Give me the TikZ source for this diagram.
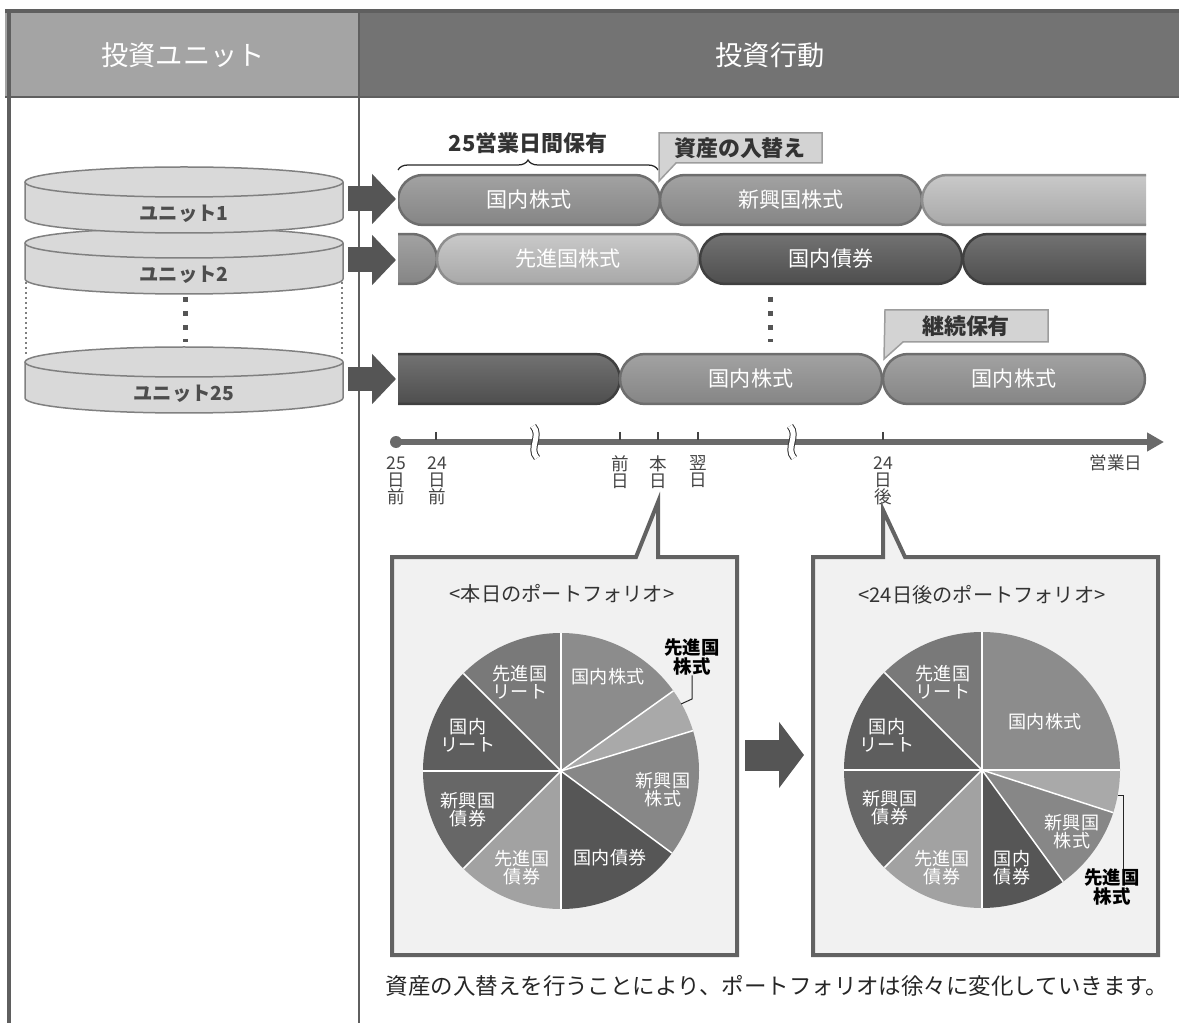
\documentclass[tikz,border=0pt]{standalone}
\usepackage{fontspec}
\setmainfont{Noto Sans CJK JP}
\usetikzlibrary{shapes.misc,arrows.meta,decorations.pathreplacing,positioning}
\definecolor{hdrL}{HTML}{A4A4A4}
\definecolor{hdrR}{HTML}{737373}
\definecolor{framec}{HTML}{5F5F5F}
\definecolor{cylfill}{HTML}{D9D9D9}
\definecolor{cyldraw}{HTML}{808080}
\definecolor{unittxt}{HTML}{4D4D4D}
\definecolor{arrowc}{HTML}{555555}
\definecolor{pmidtop}{HTML}{A2A2A2}
\definecolor{pmidbot}{HTML}{858585}
\definecolor{pmidline}{HTML}{6E6E6E}
\definecolor{plighttop}{HTML}{C9C9C9}
\definecolor{plightbot}{HTML}{A8A8A8}
\definecolor{plightline}{HTML}{8E8E8E}
\definecolor{pdarktop}{HTML}{727272}
\definecolor{pdarkbot}{HTML}{4E4E4E}
\definecolor{pdarkline}{HTML}{404040}
\definecolor{callfill}{HTML}{D3D3D3}
\definecolor{callline}{HTML}{9D9D9D}
\definecolor{boxfill}{HTML}{F1F1F1}
\definecolor{boxline}{HTML}{626262}
\definecolor{axisc}{HTML}{6A6A6A}
\definecolor{lblc}{HTML}{444444}
\definecolor{pA}{HTML}{8C8C8C}
\definecolor{pB}{HTML}{A9A9A9}
\definecolor{pC}{HTML}{878787}
\definecolor{pD}{HTML}{565656}
\definecolor{pE}{HTML}{A2A2A2}
\definecolor{pF}{HTML}{676767}
\definecolor{pG}{HTML}{5E5E5E}
\definecolor{pH}{HTML}{797979}
\tikzset{
  hdr/.style={text=white, font=\fontsize{15.5}{18}\selectfont},
  unitcyl/.style={draw=cyldraw, line width=0.03cm},
  unitlbl/.style={text=unittxt, inner sep=0pt, font=\fontsize{11}{13}\selectfont\bfseries},
  unitarrow/.style={arrowc, line width=0.5cm, -{Triangle[length=0.48cm,width=0.98cm]}},
  pill/.style={rounded rectangle, minimum width=5.24cm, minimum height=1cm, inner sep=0pt,
    line width=0.05cm, text=white, font=\fontsize{12}{14}\selectfont},
  pmid/.style={pill, draw=pmidline, top color=pmidtop, bottom color=pmidbot},
  plight/.style={pill, draw=plightline, top color=plighttop, bottom color=plightbot},
  pdark/.style={pill, draw=pdarkline, top color=pdarktop, bottom color=pdarkbot},
  hbrace/.style={decorate, decoration={brace, amplitude=0.2cm}, line width=0.025cm, black!85},
  bracetxt/.style={text=black!80, font=\fontsize{12.5}{14}\selectfont\bfseries},
  callout/.style={fill=callfill, draw=callline, line width=0.03cm},
  calltxt/.style={text=black!80, font=\fontsize{12.5}{14}\selectfont\bfseries},
  dotcol/.style={draw=arrowc, line width=0.1cm, dash pattern=on 0.1cm off 0.18cm},
  sidedot/.style={draw=cyldraw, line width=0.025cm, dash pattern=on 0.04cm off 0.06cm},
  tline/.style={axisc, line width=0.14cm, -{Triangle[length=0.34cm,width=0.36cm]}},
  tick/.style={lblc, line width=0.03cm},
  brk/.style={black!80, line width=0.02cm, double=white, double distance=0.1cm},
  tlbl/.style={text=lblc, align=center, inner sep=0pt, font=\fontsize{10}{9.7}\selectfont},
  pbox/.style={fill=boxfill, draw=boxline, line width=0.08cm, line join=miter},
  ptitle/.style={text=black!80, font=\fontsize{11.5}{13}\selectfont},
  sep/.style={white, line width=0.03cm},
  plbl/.style={text=white, align=center, inner sep=0pt, font=\fontsize{10.3}{10.2}\selectfont},
  plblk/.style={text=black, align=center, inner sep=0pt, font=\fontsize{10.5}{10.5}\selectfont\bfseries},
  leader/.style={black!85, line width=0.02cm},
  midarrow/.style={arrowc, line width=0.62cm, -{Triangle[length=0.5cm,width=1.3cm]}},
  capt/.style={text=black!85, font=\fontsize{12.8}{15}\selectfont}
}
\begin{document}
\begin{tikzpicture}[x=0.02cm,y=-0.02cm]
\useasboundingbox (0,0) rectangle (1179,1023);
% header
\fill[hdrL] (5,12) rectangle (359,97);
\fill[hdrR] (359,12) rectangle (1179,97);
\draw[framec, line width=0.09cm] (5,11) -- (1179,11);
\draw[framec, line width=0.04cm] (5,97) -- (1179,97);
\draw[framec, line width=0.1cm] (9,12) -- (9,1023);
\draw[framec, line width=0.05cm] (359,12) -- (359,1023);
\node[hdr] (hunit) at (183,55) {投資ユニット};
\node[hdr] (hact) at (770,55) {投資行動};
% units (back to front)
\foreach \yc/\lbl/\nm in {362/ユニット25/u25, 243/ユニット2/u2, 182/ユニット1/u1}{
  \fill[cylfill] (25,\yc) -- (25,\yc+36) arc[start angle=180,end angle=0,x radius=159,y radius=15] -- (343,\yc) -- cycle;
  \draw[unitcyl] (25,\yc) -- (25,\yc+36) arc[start angle=180,end angle=0,x radius=159,y radius=15] -- (343,\yc);
  \draw[unitcyl, fill=cylfill] (184,\yc) ellipse[x radius=159, y radius=15];
  \node[unitlbl] (\nm) at (184,\yc+32) {\lbl};
  \coordinate (\nm-e) at (348,\yc+17);
}
\draw[sidedot] (26,282) -- (26,356);
\draw[sidedot] (342,282) -- (342,356);
\draw[dotcol] (185,297) -- (185,342);
% rows of holdings
\coordinate (row1) at (396,199);
\coordinate (row2) at (396,260);
\coordinate (row25) at (396,379);
\foreach \nm/\rw in {u1/row1, u2/row2, u25/row25}
  \draw[unitarrow] (\nm-e) -- (\rw);
\begin{scope}
\clip (398,150) rectangle (1146,420);
\node[pmid] (r1a) at (529,200) {国内株式};
\node[pmid] (r1b) at (791,200) {新興国株式};
\node[plight] (r1c) at (1053,200) {};
\node[pmid] (r2a) at (306,259) {};
\node[plight] (r2b) at (568,259) {先進国株式};
\node[pdark] (r2c) at (831,259) {国内債券};
\node[pdark] (r2d) at (1094,259) {};
\node[pdark] (r3a) at (489,379) {};
\node[pmid] (r3b) at (751,379) {国内株式};
\node[pmid] (r3c) at (1014,379) {国内株式};
\end{scope}
\draw[hbrace] (398,170) -- (658,170);
\node[bracetxt] (hold) at (528,143) {25営業日間保有};
\draw[callout] (659,133) -- (822,133) -- (822,163) -- (676,163) -- (659,181) -- cycle;
\node[calltxt] (swap) at (740,148) {資産の入替え};
\draw[callout] (885,310) -- (1048,310) -- (1048,342) -- (903,342) -- (884,359) -- cycle;
\node[calltxt] (keep) at (966,326) {継続保有};
\draw[dotcol] (770,297) -- (770,342);
% time axis
\coordinate (t0) at (396,442);
\coordinate (t1) at (1164,442);
\draw[tline] (t0) -- (t1);
\fill[axisc] (t0) circle[radius=6];
\foreach \x in {436,620,658,698,883}
  \draw[tick] (\x,432) -- (\x,440);
\foreach \x in {535,792}
  \draw[brk] (\x-2,426) .. controls (\x+7,436) and (\x-7,448) .. (\x+2,458);
\node[tlbl] (d25) at (396,481) {25\\日\\前};
\node[tlbl] (d24) at (437,481) {24\\日\\前};
\node[tlbl] (dprev) at (620,472) {前\\日};
\node[tlbl] (dtoday) at (658,472) {本\\日};
\node[tlbl] (dnext) at (698,472) {翌\\日};
\node[tlbl] (dafter) at (883,481) {24\\日\\後};
\node[tlbl] (dunit) at (1116,463) {営業日};
% portfolio boxes
\draw[pbox] (392,557) -- (636,557) -- (658,502) -- (658,557) -- (737,557) -- (737,955) -- (392,955) -- cycle;
\draw[pbox] (813,557) -- (883,557) -- (883,510) -- (905,557) -- (1158,557) -- (1158,955) -- (813,955) -- cycle;
\node[ptitle] (tnow) at (562,594) {<本日のポートフォリオ>};
\node[ptitle] (tlater) at (982,595) {<24日後のポートフォリオ>};
% today pie
\begin{scope}[shift={(561,771)}, y=0.02cm]
\foreach \a/\b/\c in {35.5/90/pA, 17/35.5/pB, -36.5/17/pC, -90/-36.5/pD, -135/-90/pE, -180/-135/pF, 135/180/pG, 90/135/pH}
  \fill[\c] (0,0) -- (\a:138) arc[start angle=\a, end angle=\b, radius=138] -- cycle;
\foreach \a in {90,35.5,17,-36.5,-90,-135,180,135}
  \draw[sep] (0,0) -- (\a:138);
\end{scope}
% pie after 24 days
\begin{scope}[shift={(982,770)}, y=0.02cm]
\foreach \a/\b/\c in {0/90/pA, -18/0/pB, -54/-18/pC, -90/-54/pD, -135/-90/pE, -180/-135/pF, 135/180/pG, 90/135/pH}
  \fill[\c] (0,0) -- (\a:138) arc[start angle=\a, end angle=\b, radius=138] -- cycle;
\foreach \a in {90,0,-18,-54,-90,-135,180,135}
  \draw[sep] (0,0) -- (\a:138);
\end{scope}
\node[plbl] (l1a) at (608,677) {国内株式};
\node[plbl] (l1b) at (663,790) {新興国\\株式};
\node[plbl] (l1c) at (610,858) {国内債券};
\node[plbl] (l1d) at (522,868) {先進国\\債券};
\node[plbl] (l1e) at (468,810) {新興国\\債券};
\node[plbl] (l1f) at (468,735) {国内\\リート};
\node[plbl] (l1g) at (520,682) {先進国\\リート};
\node[plblk] (l1h) at (692,657) {先進国\\株式};
\coordinate (w1) at (681,704);
\draw[leader] (l1h.south) -- (l1h.south |- 0,699) -- (w1);
\node[plbl] (l2a) at (1045,722) {国内株式};
\node[plbl] (l2b) at (1072,832) {新興国\\株式};
\node[plbl] (l2c) at (1012,868) {国内\\債券};
\node[plbl] (l2d) at (942,868) {先進国\\債券};
\node[plbl] (l2e) at (890,808) {新興国\\債券};
\node[plbl] (l2f) at (887,735) {国内\\リート};
\node[plbl] (l2g) at (943,682) {先進国\\リート};
\node[plblk] (l2h) at (1112,887) {先進国\\株式};
\coordinate (w2) at (1118,795);
\draw[leader] (w2) -- ++(5,0) -- (1123,0 |- l2h.north);
\coordinate (m0) at (745,755);
\coordinate (m1) at (804,755);
\draw[midarrow] (m0) -- (m1);
\node[capt] (cap) at (777,986) {資産の入替えを行うことにより、ポートフォリオは徐々に変化していきます。};
\end{tikzpicture}
\end{document}
